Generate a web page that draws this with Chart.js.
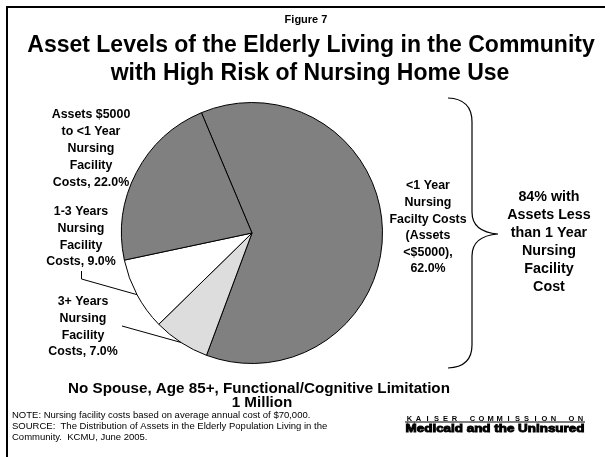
<!DOCTYPE html>
<html>
<head>
<meta charset="utf-8">
<script src="https://cdn.jsdelivr.net/npm/chart.js@4.4.0/dist/chart.umd.min.js"></script>
<style>
  html, body { margin: 0; padding: 0; background: #fff; }
  #wrap { width: 605px; height: 457px; position: relative; }
</style>
</head>
<body>
<div id="wrap"><canvas id="chart-pie"></canvas></div>
<script>
'use strict';
// [ data ] start
var categories = [
    '<1 Year Nursing Facilty Costs (Assets <$5000)',
    '3+ Years Nursing Facility Costs',
    '1-3 Years Nursing Facility Costs',
    'Assets $5000 to <1 Year Nursing Facility Costs'
];
var shares = [62.0, 7.0, 9.0, 22.0];
var sliceColors = ['#808080', '#dddddd', '#ffffff', '#808080'];
// label lines, the last line gets the share appended
var labelLines = [
    ['<1 Year', 'Nursing', 'Facilty Costs', '(Assets', '<$5000),'],
    ['3+ Years', 'Nursing', 'Facility', 'Costs,'],
    ['1-3 Years', 'Nursing', 'Facility', 'Costs,'],
    ['Assets $5000', 'to <1 Year', 'Nursing', 'Facility', 'Costs,']
];
var bracketLines = ['84% with', 'Assets Less', 'than 1 Year', 'Nursing', 'Facility', 'Cost'];
// [ data ] end

var FONT = '"Liberation Sans", Arial, sans-serif';

function pct(v) { return v.toFixed(1) + '%'; }

var slidePlugin = {
    id: 'slide',
    beforeDraw: function(chart) {
        var ctx = chart.ctx;
        ctx.save();
        ctx.fillStyle = '#fff';
        ctx.fillRect(0, 0, chart.width, chart.height);
        ctx.restore();
    },
    afterDraw: function(chart) {
        var ctx = chart.ctx;
        var meta = chart.getDatasetMeta(0);
        ctx.save();
        ctx.fillStyle = '#000';
        ctx.strokeStyle = '#000';

        // frame
        ctx.lineWidth = 2;
        ctx.beginPath();
        ctx.moveTo(7, 457);
        ctx.lineTo(7, 7);
        ctx.lineTo(605, 7);
        ctx.stroke();

        // titles
        ctx.textAlign = 'center';
        ctx.textBaseline = 'alphabetic';
        ctx.font = 'bold 11px ' + FONT;
        ctx.fillText('Figure 7', 306, 23);
        ctx.font = 'bold 23px ' + FONT;
        ctx.fillText('Asset Levels of the Elderly Living in the Community', 311, 51.5);
        ctx.fillText('with High Risk of Nursing Home Use', 310, 79.5);

        // slice labels
        ctx.textBaseline = 'middle';
        ctx.font = 'bold 12.4px ' + FONT;
        var spots = [
            {x: 428, y: 186, gap: 16.6},
            {x: 83, y: 302, gap: 16.6},
            {x: 81, y: 212, gap: 16.6},
            {x: 91, y: 115, gap: 16.8}
        ];
        for (var i = 0; i < shares.length; i++) {
            var lines = labelLines[i].slice();
            var last = lines.length - 1;
            if (i === 0) {
                lines.push(pct(shares[i]));
            } else {
                lines[last] = lines[last] + ' ' + pct(shares[i]);
            }
            for (var j = 0; j < lines.length; j++) {
                ctx.fillText(lines[j], spots[i].x, spots[i].y + j * spots[i].gap);
            }
        }

        // leader lines to the small slices
        function edge(idx) {
            var a = meta.data[idx];
            var mid = (a.startAngle + a.endAngle) / 2;
            return {x: a.x + Math.cos(mid) * a.outerRadius, y: a.y + Math.sin(mid) * a.outerRadius};
        }
        ctx.lineWidth = 1;
        var p9 = edge(2);
        ctx.beginPath();
        ctx.moveTo(81.5, 271);
        ctx.lineTo(81.5, 279);
        ctx.lineTo(p9.x, p9.y);
        ctx.stroke();
        var p7 = edge(1);
        ctx.beginPath();
        ctx.moveTo(122, 326);
        ctx.lineTo(p7.x, p7.y);
        ctx.stroke();

        // curly bracket
        ctx.lineWidth = 1.2;
        ctx.beginPath();
        ctx.moveTo(448, 98);
        ctx.quadraticCurveTo(472, 99, 472, 122);
        ctx.lineTo(472, 212);
        ctx.quadraticCurveTo(472, 232, 498, 234);
        ctx.quadraticCurveTo(472, 236, 472, 256);
        ctx.lineTo(472, 345);
        ctx.quadraticCurveTo(472, 367, 448, 368);
        ctx.stroke();

        ctx.font = 'bold 14.3px ' + FONT;
        for (var k = 0; k < bracketLines.length; k++) {
            ctx.fillText(bracketLines[k], 549, 197 + k * 18);
        }

        // bottom caption
        ctx.textBaseline = 'alphabetic';
        ctx.font = 'bold 15.2px ' + FONT;
        ctx.fillText('No Spouse, Age 85+, Functional/Cognitive Limitation', 259, 392.5);
        ctx.fillText('1 Million', 262, 406.5);

        // notes
        ctx.textAlign = 'left';
        ctx.textBaseline = 'middle';
        ctx.font = '9.5px ' + FONT;
        ctx.fillText('NOTE: Nursing facility costs based on average annual cost of $70,000.', 12, 415);
        ctx.fillText('SOURCE:  The Distribution of Assets in the Elderly Population Living in the', 12, 426);
        ctx.fillText('Community.  KCMU, June 2005.', 12, 437);

        // logo
        var lx = 405, lw = 180;
        ctx.font = 'bold 7.5px ' + FONT;
        var word = 'KAISER COMMISSION ON';
        var step = lw / word.length;
        ctx.textAlign = 'center';
        for (var c = 0; c < word.length; c++) {
            ctx.fillText(word[c], lx + step * (c + 0.5), 418.5);
        }
        ctx.fillRect(lx, 421.5, lw, 1);
        ctx.font = 'bold 11px ' + FONT;
        var tag = 'Medicaid and the Uninsured';
        var tw = ctx.measureText(tag).width;
        ctx.save();
        ctx.translate(lx, 428.5);
        ctx.scale(lw / (tw + 1), 1);
        ctx.textAlign = 'left';
        ctx.lineWidth = 0.9;
        ctx.strokeText(tag, 0.5, 0);
        ctx.fillText(tag, 0.5, 0);
        ctx.restore();

        ctx.restore();
    }
};

var pie = document.getElementById('chart-pie').getContext('2d');
var myPieChart = new Chart(pie, {
    type: 'pie',
    data: {
        labels: categories,
        datasets: [{
            data: shares,
            backgroundColor: sliceColors,
            borderColor: '#000000',
            borderWidth: 1,
            hoverOffset: 0
        }]
    },
    options: {
        responsive: true,
        maintainAspectRatio: false,
        animation: false,
        rotation: -22.8,
        layout: {
            padding: {left: 121, top: 102, right: 222, bottom: 93}
        },
        plugins: {
            legend: { display: false },
            title: { display: false },
            tooltip: { enabled: false }
        }
    },
    plugins: [slidePlugin]
});
</script>
</body>
</html>
